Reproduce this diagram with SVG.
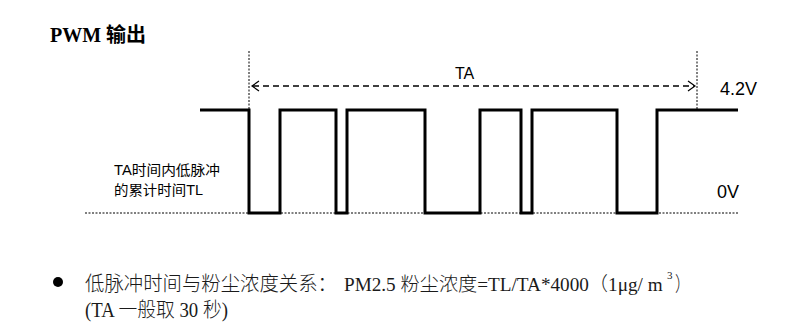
<svg xmlns="http://www.w3.org/2000/svg" width="810" height="332" viewBox="0 0 810 332">
<style>
.wave{fill:none;stroke:#000;stroke-width:3;stroke-linejoin:miter}
.dot{fill:none;stroke:#000;stroke-width:1;stroke-dasharray:2 1.5}
.dash{fill:none;stroke:#000;stroke-width:1.5;stroke-dasharray:6 4}
.ah{fill:none;stroke:#000;stroke-width:1.2}
.lbl{font-family:"Liberation Sans","Noto Sans CJK SC",sans-serif;fill:#000}
.body{font-family:"Liberation Serif","Noto Sans CJK SC",serif;fill:#1a1a1a;font-size:20px;font-weight:300}
.sup{font-family:"Liberation Serif",serif;fill:#1a1a1a;font-size:11px}
</style>
<rect width="810" height="332" fill="#fff"/>
<g id="title"><text x="50" y="42" font-family="Liberation Serif,'Noto Sans CJK SC',serif" font-weight="bold" font-size="20" fill="#000">PWM 输出</text></g>
<g id="connectors">
<line class="dot" x1="249" y1="51" x2="249" y2="110"/>
<line class="dot" x1="697" y1="51" x2="697" y2="110"/>
<line class="dot" x1="85" y1="213" x2="738" y2="213"/>
<line class="dash" x1="253" y1="86" x2="694" y2="86"/>
<polyline class="ah" points="259,81 252,86 259,91"/>
<polyline class="ah" points="688,81 695,86 688,91"/>
</g>
<g id="waveform">
<polyline class="wave" points="200,110 249,110 249,213 280,213 280,110 336,110 336,213 347,213 347,110 425,110 425,213 480,213 480,110 521,110 521,213 532,213 532,110 617,110 617,213 657,213 657,110 738,110"/>
</g>
<g id="labels">
<text class="lbl" x="455" y="79" font-size="16">TA</text>
<text class="lbl" x="720" y="95" font-size="18">4.2V</text>
<text class="lbl" x="717" y="198" font-size="18">0V</text>
<text class="lbl" x="114" y="175" font-size="14" textLength="106" lengthAdjust="spacingAndGlyphs">TA时间内低脉冲</text>
<text class="lbl" x="114" y="195" font-size="14" textLength="89" lengthAdjust="spacingAndGlyphs">的累计时间TL</text>
</g>
<g id="note">
<circle cx="58" cy="282" r="5" fill="#000"/>
<text class="body" x="85" y="291" textLength="252" lengthAdjust="spacingAndGlyphs">低脉冲时间与粉尘浓度关系：</text>
<text class="body" x="344" y="291" style="font-size:19.2px">PM2.5 粉尘浓度=TL/TA*4000（1μg/ m</text>
<text class="sup" x="667" y="279">3</text>
<text class="body" x="675" y="291" textLength="15" lengthAdjust="spacingAndGlyphs">）</text>
<text class="body" x="85" y="317" textLength="143" lengthAdjust="spacingAndGlyphs">(TA 一般取 30 秒)</text>
</g>
</svg>
